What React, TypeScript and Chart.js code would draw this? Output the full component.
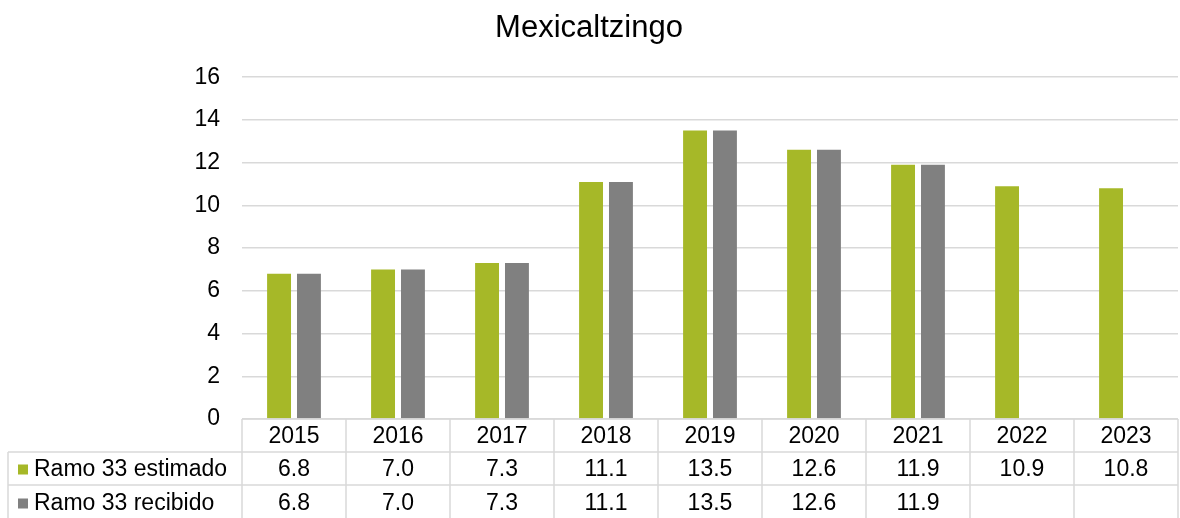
import React, { useEffect, useRef } from "react";
import { Chart, registerables } from "chart.js";

Chart.register(...registerables);

const categories = ["2015", "2016", "2017", "2018", "2019", "2020", "2021", "2022", "2023"];
const estimado: (number | null)[] = [6.8, 7.0, 7.3, 11.1, 13.5, 12.6, 11.9, 10.9, 10.8];
const recibido: (number | null)[] = [6.8, 7.0, 7.3, 11.1, 13.5, 12.6, 11.9, null, null];
const seriesNames = ["Ramo 33 estimado", "Ramo 33 recibido"];
const yTicks = [0, 2, 4, 6, 8, 10, 12, 14, 16];

const GREEN = "#A6B828";
const GRAY = "#808080";
const LINE = "#D9D9D9";
const FONT = "'Liberation Sans', Arial, sans-serif";
const FS = 23;

const tablePlugin = {
  id: "dataTable",
  afterDraw(chart: any) {
    const ctx = chart.ctx as CanvasRenderingContext2D;
    const xs = chart.scales.x;
    const area = chart.chartArea;
    const n = categories.length;
    const w = (area.right - area.left) / n;
    const top = area.bottom;
    const r1 = top + 33;
    const r2 = r1 + 33;
    const bottom = chart.height;
    const leftEdge = 8;
    ctx.save();
    ctx.strokeStyle = LINE;
    ctx.lineWidth = 1.5;
    ctx.beginPath();
    ctx.moveTo(area.left, top);
    ctx.lineTo(area.right, top);
    ctx.moveTo(leftEdge, r1);
    ctx.lineTo(area.right, r1);
    ctx.moveTo(leftEdge, r2);
    ctx.lineTo(area.right, r2);
    ctx.moveTo(leftEdge, r1);
    ctx.lineTo(leftEdge, bottom);
    for (let i = 0; i <= n; i++) {
      const x = area.left + i * w;
      ctx.moveTo(x, top);
      ctx.lineTo(x, bottom);
    }
    ctx.stroke();

    ctx.fillStyle = "#000";
    ctx.font = `${FS}px ${FONT}`;
    ctx.textAlign = "center";
    ctx.textBaseline = "middle";
    const rowsData = [estimado, recibido];
    for (let i = 0; i < n; i++) {
      const cx = xs.getPixelForValue(i);
      ctx.fillText(categories[i], cx, (top + r1) / 2 + 1);
      rowsData.forEach((arr, k) => {
        const v = arr[i];
        if (v !== null && v !== undefined) {
          const y = k === 0 ? (r1 + r2) / 2 + 1 : (r2 + bottom) / 2 + 2;
          ctx.fillText(v.toFixed(1), cx, y);
        }
      });
    }
    ctx.textAlign = "left";
    const colors = [GREEN, GRAY];
    seriesNames.forEach((name, k) => {
      const cy = k === 0 ? (r1 + r2) / 2 + 1 : (r2 + bottom) / 2 + 2;
      ctx.fillStyle = colors[k];
      ctx.fillRect(18, cy - 5, 10, 10);
      ctx.fillStyle = "#000";
      ctx.fillText(name, 34, cy);
    });
    ctx.restore();
  },
};

export default function App() {
  const ref = useRef<HTMLCanvasElement>(null);
  useEffect(() => {
    if (!ref.current) return;
    const chart = new Chart(ref.current, {
      type: "bar",
      data: {
        labels: categories,
        datasets: [
          {
            label: seriesNames[0],
            data: estimado,
            backgroundColor: GREEN,
            barPercentage: 0.8,
            categoryPercentage: 0.575,
          },
          {
            label: seriesNames[1],
            data: recibido,
            backgroundColor: GRAY,
            barPercentage: 0.8,
            categoryPercentage: 0.575,
          },
        ],
      },
      options: {
        animation: false,
        responsive: false,
        maintainAspectRatio: false,
        layout: { padding: { left: 0, right: 2, top: 0, bottom: 0 } },
        plugins: {
          legend: { display: false },
          tooltip: { enabled: false },
          title: {
            display: true,
            text: "Mexicaltzingo",
            color: "#000",
            font: { size: 31, family: FONT, weight: "normal" },
            padding: { top: 10, bottom: 30 },
          },
        },
        scales: {
          x: {
            ticks: { display: false },
            grid: { display: false },
            border: { display: false },
            afterFit: (s: any) => {
              s.height = 99;
            },
          },
          y: {
            min: 0,
            max: 16,
            afterBuildTicks: (s: any) => {
              s.ticks = yTicks.map((v) => ({ value: v }));
            },
            ticks: {
              color: "#000",
              font: { size: FS, family: FONT },
              padding: 22,
            },
            grid: { color: LINE, lineWidth: 1.5, drawTicks: false },
            border: { display: false },
            afterFit: (s: any) => {
              s.width = 242;
            },
          },
        },
      },
      plugins: [tablePlugin],
    });
    return () => chart.destroy();
  }, []);
  return (
    <div style={{ position: "fixed", left: 0, top: 0, width: 1180, height: 518, background: "#fff" }}>
      <canvas ref={ref} width={1180} height={518} style={{ display: "block" }} />
    </div>
  );
}
